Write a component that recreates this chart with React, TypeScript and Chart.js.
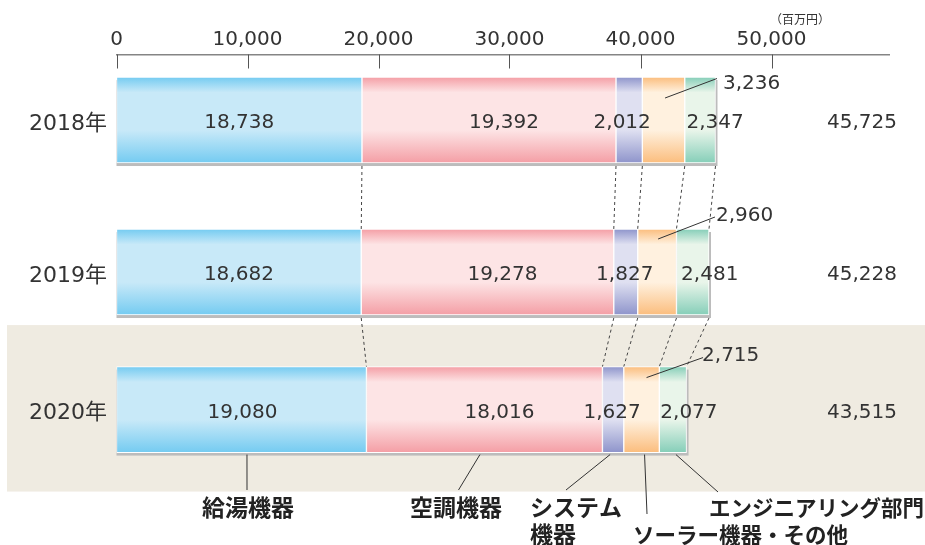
import React, { useEffect, useRef } from 'react';
import { Chart, registerables } from 'chart.js';

Chart.register(...registerables);

// ---------- data ----------
const years = ['2018年', '2019年', '2020年'];
const seriesNames = ['給湯機器', '空調機器', 'システム機器', 'ソーラー機器・その他', 'エンジニアリング部門'];
const kyutoKiki = [18738, 18682, 19080];
const kuchoKiki = [19392, 19278, 18016];
const systemKiki = [2012, 1827, 1627];
const solarSonota = [3236, 2960, 2715];
const engineering = [2347, 2481, 2077];
const xTickValues = [0, 10000, 20000, 30000, 40000, 50000];
const xMax = 59000;
const unitLabel = '（百万円）';

const seriesValues = [kyutoKiki, kuchoKiki, systemKiki, solarSonota, engineering];

// ---------- layout / style ----------
const W = 925;
const H = 545;
const rowPos = [0, 1, 1.905];
const Y_MIN = -0.431;
const Y_MAX = 2.796;
const BAR = 86;
const NUM_FONT = '"DejaVu Sans", "Noto Sans CJK JP", sans-serif';
const JP_FONT = '"Noto Sans CJK JP", "DejaVu Sans", sans-serif';
const TEXT = '#333333';

const edgeColors = ['#74cbf1', '#f49ea5', '#8e94cb', '#fbbd7d', '#85ceb8'];
const midColors = ['#c8e9f8', '#fde4e5', '#dfe0f1', '#fff1df', '#e9f5ea'];

// value label x offsets (px) per row / series (solar handled by callout)
const labelDx = [
  [0, 15, -7, 0, 15],
  [0, 15, -1, 0, 17],
  [1, 15, -1, 0, 16],
];
// callout for the solar series: relative to bar end / bar top
const callouts = [
  { tdx: 7.5, tdy: 7, sdx: 1.5, sdy: 21, edx: 1.5, edy: 1.5 },
  { tdx: 7, tdy: -13, sdx: 1, sdy: 10, edx: 6, edy: -12 },
  { tdx: 15.5, tdy: -11, sdx: 5, sdy: 11, edx: 16.5, edy: -9 },
];
// bottom category labels (text anchors) with leader ends
const bottomLabels = [
  { x: 248, y: 507, align: 'center', sdx: 5.5, ex: 247, ey: 490 },
  { x: 456, y: 507, align: 'center', sdx: -4.5, ex: 458.5, ey: 490 },
  { x: 530, y: 507, align: 'left', sdx: -3, ex: 566, ey: 490 },
  { x: 633, y: 534.5, align: 'left', sdx: 3, ex: 647, ey: 514 },
  { x: 709, y: 507.5, align: 'left', sdx: 3, ex: 718, ey: 492 },
];

const totals = years.map((_, i) => seriesValues.reduce((a, s) => a + s[i], 0));
const cumulative = years.map((_, i) => {
  let acc = 0;
  return seriesValues.map((s) => (acc += s[i]));
});
const fmt = (v: number) => v.toLocaleString('en-US');

function barFill(ctx: any, s: number) {
  const chart = ctx.chart;
  const yScale = chart.scales && chart.scales.y;
  if (ctx.type !== 'data' || !yScale) return edgeColors[s];
  const yc = yScale.getPixelForValue(rowPos[ctx.dataIndex]);
  if (!isFinite(yc)) return edgeColors[s];
  const g = chart.ctx.createLinearGradient(0, yc - BAR / 2, 0, yc + BAR / 2);
  g.addColorStop(0, edgeColors[s]);
  g.addColorStop(0.18, midColors[s]);
  g.addColorStop(0.62, midColors[s]);
  g.addColorStop(1, edgeColors[s]);
  return g;
}

const decorPlugin = {
  id: 'decor',
  beforeDraw(chart: any) {
    const { ctx, scales } = chart;
    const y = scales.y;
    const yc = y.getPixelForValue(rowPos[2]);
    ctx.save();
    ctx.fillStyle = '#efebe1';
    ctx.fillRect(7, yc - 84.5, W - 7, 84.5 + 82);
    ctx.restore();
  },
  beforeDatasetsDraw(chart: any) {
    const { ctx, scales } = chart;
    const x = scales.x;
    const y = scales.y;
    ctx.save();
    ctx.fillStyle = '#bcbcbc';
    years.forEach((_, i) => {
      const yc = y.getPixelForValue(rowPos[i]);
      const x0 = x.getPixelForValue(0);
      const x1 = x.getPixelForValue(totals[i]);
      ctx.fillRect(x0, yc - BAR / 2 + 3, x1 - x0 + 2, BAR);
    });
    ctx.restore();
  },
  afterDatasetsDraw(chart: any) {
    const { ctx, scales, chartArea } = chart;
    const x = scales.x;
    const y = scales.y;
    ctx.save();

    // tick marks pointing down from the top axis line
    ctx.strokeStyle = '#555555';
    ctx.lineWidth = 1;
    xTickValues.forEach((v) => {
      const px = Math.round(x.getPixelForValue(v)) + 0.5;
      ctx.beginPath();
      ctx.moveTo(px, chartArea.top);
      ctx.lineTo(px, chartArea.top + 14);
      ctx.stroke();
    });

    // dashed connectors between bars
    ctx.strokeStyle = '#444444';
    ctx.setLineDash([3, 3]);
    for (let i = 0; i < years.length - 1; i++) {
      const yb = y.getPixelForValue(rowPos[i]) + BAR / 2 + 3;
      const yt = y.getPixelForValue(rowPos[i + 1]) - BAR / 2;
      for (let k = 0; k < seriesValues.length; k++) {
        ctx.beginPath();
        ctx.moveTo(x.getPixelForValue(cumulative[i][k]), yb);
        ctx.lineTo(x.getPixelForValue(cumulative[i + 1][k]), yt);
        ctx.stroke();
      }
    }
    ctx.setLineDash([]);

    // value labels
    ctx.fillStyle = TEXT;
    ctx.font = `20px ${NUM_FONT}`;
    ctx.textBaseline = 'middle';
    years.forEach((_, i) => {
      const yc = y.getPixelForValue(rowPos[i]);
      seriesValues.forEach((s, k) => {
        if (k === 3) return;
        const a = x.getPixelForValue(k === 0 ? 0 : cumulative[i][k - 1]);
        const b = x.getPixelForValue(cumulative[i][k]);
        ctx.textAlign = 'center';
        ctx.fillText(fmt(s[i]), (a + b) / 2 + labelDx[i][k], yc + 3);
      });
      // totals
      ctx.textAlign = 'right';
      ctx.fillText(fmt(totals[i]), 897, yc + 3);

      // solar callout
      const c = callouts[i];
      const top = yc - BAR / 2;
      const end = x.getPixelForValue(totals[i]);
      const sa = x.getPixelForValue(cumulative[i][2]);
      const sb = x.getPixelForValue(cumulative[i][3]);
      ctx.strokeStyle = '#333333';
      ctx.lineWidth = 1;
      ctx.beginPath();
      ctx.moveTo((sa + sb) / 2 + c.sdx, top + c.sdy);
      ctx.lineTo(end + c.edx, top + c.edy);
      ctx.stroke();
      ctx.textAlign = 'left';
      ctx.fillText(fmt(solarSonota[i]), end + c.tdx, top + c.tdy);
    });

    // unit label
    ctx.font = `12px ${JP_FONT}`;
    ctx.textAlign = 'center';
    ctx.fillText(unitLabel, 800, 19);

    // bottom category labels with leaders
    const last = years.length - 1;
    const ybot = y.getPixelForValue(rowPos[last]) + BAR / 2 + 2;
    ctx.strokeStyle = '#333333';
    ctx.lineWidth = 1;
    ctx.fillStyle = '#222222';
    bottomLabels.forEach((l, k) => {
      const a = x.getPixelForValue(k === 0 ? 0 : cumulative[last][k - 1]);
      const b = x.getPixelForValue(cumulative[last][k]);
      ctx.beginPath();
      ctx.moveTo((a + b) / 2 + l.sdx, ybot);
      ctx.lineTo(l.ex, l.ey);
      ctx.stroke();
      const name = seriesNames[k];
      const lines = k === 2 ? [name.slice(0, 4), name.slice(4)] : [name];
      ctx.textAlign = l.align as CanvasTextAlign;
      const size = k >= 3 ? 21.5 : 23;
      ctx.font = `bold ${size}px ${JP_FONT}`;
      lines.forEach((t, j) => ctx.fillText(t, l.x, l.y + j * 27));
    });

    ctx.restore();
  },
};

export default function App() {
  const ref = useRef<HTMLCanvasElement | null>(null);

  useEffect(() => {
    if (!ref.current) return;
    const chart = new Chart(ref.current, {
      type: 'bar',
      data: {
        datasets: seriesValues.map((vals, s) => ({
          label: seriesNames[s],
          data: vals.map((v, i) => ({ x: v, y: rowPos[i] })),
          backgroundColor: (ctx: any) => barFill(ctx, s),
          borderColor: '#ffffff',
          borderWidth: 1,
          borderSkipped: false,
          barThickness: BAR,
          stack: 'all',
        })),
      },
      options: {
        indexAxis: 'y',
        responsive: false,
        animation: false,
        events: [],
        layout: { padding: { top: 0, left: 0, bottom: 0, right: W - 889.4 } },
        plugins: {
          legend: { display: false },
          tooltip: { enabled: false },
        },
        scales: {
          x: {
            type: 'linear',
            position: 'top',
            min: 0,
            max: xMax,
            stacked: true,
            offset: false,
            grid: { display: false, drawTicks: false },
            border: { display: true, color: '#858585', width: 1.5 },
            ticks: {
              padding: 3,
              color: TEXT,
              font: { family: NUM_FONT, size: 20 },
              maxRotation: 0,
              callback: (v: any) => fmt(Number(v)),
            },
            afterBuildTicks: (scale: any) => {
              scale.ticks = xTickValues.map((v) => ({ value: v }));
            },
            afterFit: (scale: any) => {
              scale.height = 54.5;
              scale.paddingLeft = 0;
              scale.paddingRight = 0;
            },
          },
          y: {
            type: 'linear',
            position: 'left',
            min: Y_MIN,
            max: Y_MAX,
            reverse: true,
            stacked: true,
            offset: false,
            grid: { display: false, drawTicks: false, offset: false },
            border: { display: false },
            ticks: {
              padding: 9.5,
              labelOffset: 4,
              color: TEXT,
              font: { family: NUM_FONT, size: 22 },
              callback: (v: any) => {
                const i = rowPos.indexOf(Number(v));
                return i >= 0 ? years[i] : '';
              },
            },
            afterBuildTicks: (scale: any) => {
              scale.ticks = rowPos.map((v) => ({ value: v }));
            },
            afterFit: (scale: any) => {
              scale.width = 116.5;
              scale.paddingTop = 0;
              scale.paddingBottom = 0;
            },
          },
        },
      } as any,
      plugins: [decorPlugin],
    });
    return () => chart.destroy();
  }, []);

  return (
    <div style={{ position: 'fixed', left: 0, top: 0, width: W, height: H, background: '#ffffff' }}>
      <canvas ref={ref} width={W} height={H} style={{ display: 'block', width: W, height: H }} />
    </div>
  );
}
